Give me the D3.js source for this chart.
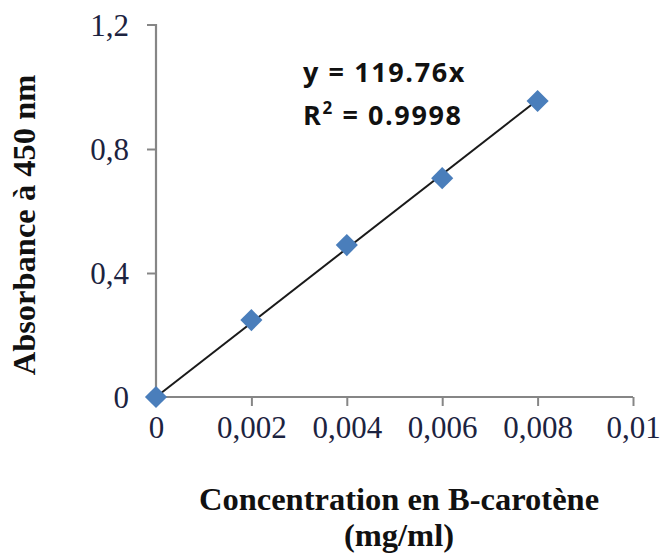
<!DOCTYPE html>
<html>
<head>
<meta charset="utf-8">
<script src="https://cdn.jsdelivr.net/npm/d3@7"></script>
<style>
html,body{margin:0;padding:0;background:#fff;}
svg{display:block;}
</style>
</head>
<body>
<svg id="chart" width="661" height="555"></svg>
<script>
// Data
const concentrations = [0, 0.002, 0.004, 0.006, 0.008];
const absorbances = [0, 0.248, 0.49, 0.706, 0.955];
const slope = 119.76;
const xTicks = [0, 0.002, 0.004, 0.006, 0.008, 0.01];
const xTickLabels = ["0", "0,002", "0,004", "0,006", "0,008", "0,01"];
const yTicks = [0, 0.4, 0.8, 1.2];
const yTickLabels = ["0", "0,4", "0,8", "1,2"];
const equationText = "y = 119.76x";
const r2Value = "0.9998";
const xTitleLines = ["Concentration en B-carotène", "(mg/ml)"];
const yTitle = "Absorbance à 450 nm";

const svg = d3.select("#chart");
const x = d3.scaleLinear().domain([0, 0.01]).range([156, 633]);
const y = d3.scaleLinear().domain([0, 1.2]).range([397, 25]);

const axisColor = "#868686";
const labelColor = "#1c2340";
const serif = "'Liberation Serif','Times New Roman',serif";

// X axis
const xAxis = d3.axisBottom(x).tickValues(xTicks).tickSize(9).tickPadding(10)
  .tickFormat((d,i) => xTickLabels[i]);
const gx = svg.append("g").attr("transform", `translate(0,${y(0)})`).call(xAxis);
gx.select(".domain").attr("stroke", axisColor).attr("stroke-width", 2.2)
  .attr("d", `M${x(0)},0H${x(0.01)}`);
gx.selectAll(".tick line").attr("stroke", axisColor).attr("stroke-width", 2);
gx.selectAll(".tick text").attr("fill", labelColor)
  .style("font-family", serif).style("font-size", "31px");
gx.selectAll(".tick").filter(d => d === 0).select("line").remove();

// Y axis
const yAxis = d3.axisLeft(y).tickValues(yTicks).tickSize(9).tickPadding(18)
  .tickFormat((d,i) => yTickLabels[i]);
const gy = svg.append("g").attr("transform", `translate(${x(0)},0)`).call(yAxis);
gy.select(".domain").attr("stroke", axisColor).attr("stroke-width", 2.2)
  .attr("d", `M-9,${y(1.2)}H0V${y(0)}`);
gy.selectAll(".tick line").attr("stroke", axisColor).attr("stroke-width", 2);
gy.selectAll(".tick").filter(d => d === 0).select("line").remove();
gy.selectAll(".tick").filter(d => d === 1.2).select("line").remove();
gy.selectAll(".tick text").attr("fill", labelColor)
  .style("font-family", serif).style("font-size", "31px").attr("dy", "0.34em");

// Trend line
const xMax = d3.max(concentrations);
svg.append("line")
  .attr("x1", x(0)).attr("y1", y(0))
  .attr("x2", x(xMax)).attr("y2", y(slope * xMax))
  .attr("stroke", "#1a1a1a").attr("stroke-width", 2);

// Markers (diamonds)
const diamond = d3.symbol().type(d3.symbolSquare).size(245);
svg.selectAll("path.pt").data(concentrations.map((c,i)=>({c, a: absorbances[i]})))
  .enter().append("path").attr("class","pt")
  .attr("d", diamond)
  .attr("transform", d => `translate(${x(d.c)},${y(d.a)}) rotate(45)`)
  .attr("fill", "#4a7ebb");

// Equation
const eq = svg.append("g").style("font-family", "'Open Sans',Lato,sans-serif")
  .style("font-weight", "bold").style("font-size", "27px")
  .style("letter-spacing", "1.6px").attr("fill", "#111");
eq.append("text").attr("x", 303).attr("y", 82).text(equationText);
const r2 = eq.append("text").attr("x", 303).attr("y", 125);
r2.append("tspan").text("R");
r2.append("tspan").attr("dy", -11).style("font-size", "17px").text("2");
r2.append("tspan").attr("dy", 11).text(" = " + r2Value);

// X title
const xt = svg.append("text").attr("text-anchor", "middle")
  .style("font-family", serif).style("font-weight", "bold").style("font-size", "32.5px")
  .attr("fill", "#111");
xt.append("tspan").attr("x", 399).attr("y", 510).text(xTitleLines[0]);
xt.append("tspan").attr("x", 399).attr("y", 546).text(xTitleLines[1]);

// Y title
svg.append("text").attr("text-anchor", "middle")
  .attr("transform", "translate(35,225) rotate(-90)")
  .style("font-family", serif).style("font-weight", "bold").style("font-size", "32.5px")
  .attr("fill", "#111").text(yTitle);
</script>
</body>
</html>
